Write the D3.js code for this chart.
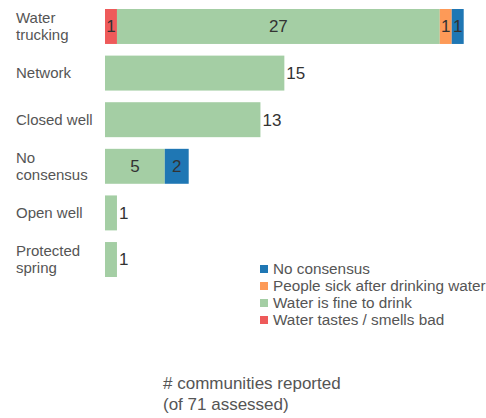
<!DOCTYPE html>
<html>
<head>
<meta charset="utf-8">
<script src="https://cdn.jsdelivr.net/npm/d3@7"></script>
<style>
  body { margin: 0; background: #fff; }
  text { font-family: "Liberation Sans", Arial, sans-serif; }
</style>
</head>
<body>
<div id="chart"></div>
<script>
// categories (top to bottom), label lines
const categories = ["Water trucking", "Network", "Closed well", "No consensus", "Open well", "Protected spring"];
const categoryLines = [["Water", "trucking"], ["Network"], ["Closed well"], ["No", "consensus"], ["Open well"], ["Protected", "spring"]];

// series, stacked left to right
const seriesKeys = ["Water tastes / smells bad", "Water is fine to drink", "People sick after drinking water", "No consensus"];
const tastesBad = [1, 0, 0, 0, 0, 0];
const fineToDrink = [27, 15, 13, 5, 1, 1];
const peopleSick = [1, 0, 0, 0, 0, 0];
const noConsensus = [1, 0, 0, 2, 0, 0];

const legendOrder = ["No consensus", "People sick after drinking water", "Water is fine to drink", "Water tastes / smells bad"];
const axisTitle = ["# communities reported", "(of 71 assessed)"];

const width = 486, height = 418;

const svg = d3.select("#chart")
    .append("svg")
    .attr("width", width)
    .attr("height", height);

const rows = categories.map((c, i) => ({
    category: c,
    "Water tastes / smells bad": tastesBad[i],
    "Water is fine to drink": fineToDrink[i],
    "People sick after drinking water": peopleSick[i],
    "No consensus": noConsensus[i]
}));

const color = d3.scaleOrdinal()
    .domain(seriesKeys)
    .range(["#ee5a5a", "#a4cea4", "#fd9a58", "#1f77b4"]);

const x = d3.scaleLinear()
    .domain([0, 30])
    .range([105, 463.7]);

const y = d3.scaleBand()
    .domain(categories)
    .range([9, 277])
    .paddingInner(0.25)
    .paddingOuter(0);

const stacked = d3.stack().keys(seriesKeys)(rows);

// bars
svg.append("g")
    .selectAll("g")
    .data(stacked)
    .join("g")
    .attr("fill", d => color(d.key))
    .selectAll("rect")
    .data(d => d.map(v => Object.assign(v, { key: d.key })))
    .join("rect")
    .attr("x", d => x(d[0]))
    .attr("y", d => y(d.data.category))
    .attr("width", d => x(d[1]) - x(d[0]))
    .attr("height", y.bandwidth());

// value labels: inside when several segments, outside otherwise
rows.forEach(r => {
    const segs = stacked.map(s => s[categories.indexOf(r.category)]).filter(s => s[1] - s[0] > 0);
    const cy = y(r.category) + y.bandwidth() / 2;
    if (segs.length > 1) {
        segs.forEach(s => {
            svg.append("text")
                .attr("x", (x(s[0]) + x(s[1])) / 2)
                .attr("y", cy)
                .attr("dy", "0.35em")
                .attr("text-anchor", "middle")
                .attr("font-size", 17)
                .attr("fill", "#333")
                .text(s[1] - s[0]);
        });
    } else {
        const s = segs[0];
        svg.append("text")
            .attr("x", x(s[1]) + 2)
            .attr("y", cy)
            .attr("dy", "0.35em")
            .attr("font-size", 17)
            .attr("fill", "#333")
            .text(s[1] - s[0]);
    }
});

// category labels
categories.forEach((c, i) => {
    const lines = categoryLines[i];
    const cy = y(c) + y.bandwidth() / 2;
    const t = svg.append("text")
        .attr("x", 16)
        .attr("font-size", 15)
        .attr("fill", "#555");
    lines.forEach((l, j) => {
        t.append("tspan")
            .attr("x", 16)
            .attr("y", cy + (j - (lines.length - 1) / 2) * 17)
            .attr("dy", "0.35em")
            .text(l);
    });
});

// legend
const legend = svg.append("g").attr("transform", "translate(260, 269)");
legendOrder.forEach((k, i) => {
    legend.append("rect")
        .attr("x", 0)
        .attr("y", i * 17 - 4)
        .attr("width", 8)
        .attr("height", 8)
        .attr("fill", color(k));
    legend.append("text")
        .attr("x", 13)
        .attr("y", i * 17)
        .attr("dy", "0.35em")
        .attr("font-size", 15.3)
        .attr("fill", "#555")
        .text(k);
});

// axis title
axisTitle.forEach((l, i) => {
    svg.append("text")
        .attr("x", 163)
        .attr("y", 389 + i * 21)
        .attr("font-size", 17)
        .attr("fill", "#555")
        .text(l);
});
</script>
</body>
</html>
